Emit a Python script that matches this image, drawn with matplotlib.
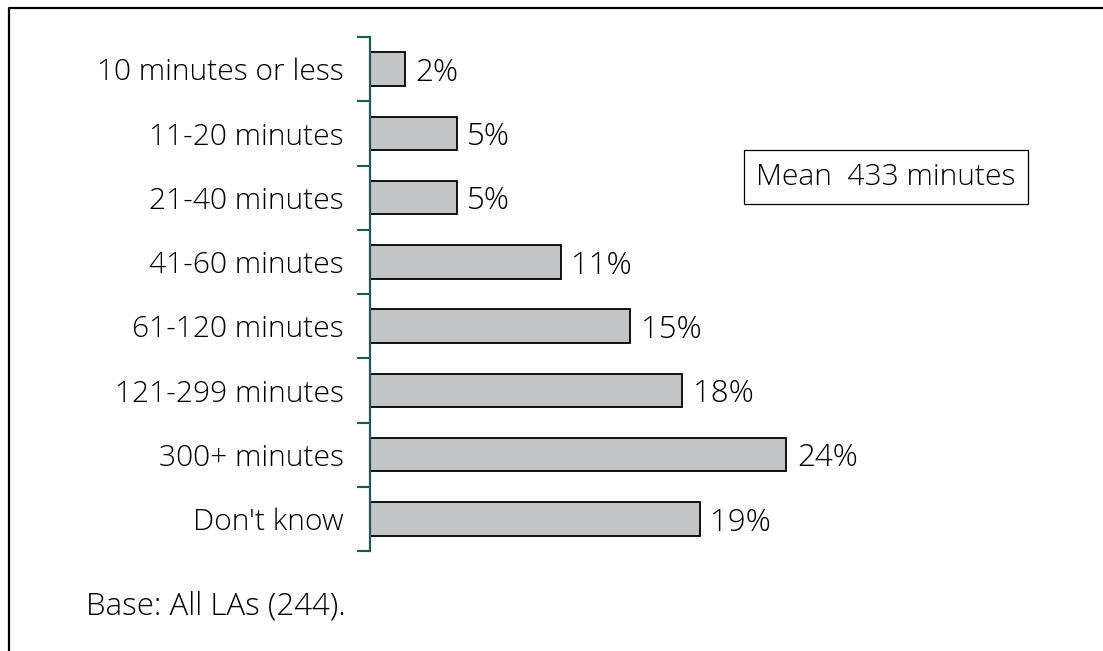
import matplotlib
matplotlib.use("Agg")
import matplotlib.pyplot as plt
from matplotlib.lines import Line2D
import numpy as np

categories = [
    "10 minutes or less",
    "11-20 minutes",
    "21-40 minutes",
    "41-60 minutes",
    "61-120 minutes",
    "121-299 minutes",
    "300+ minutes",
    "Don't know",
]
percent = [2, 5, 5, 11, 15, 18, 24, 19]
mean_text = "Mean  433 minutes"
base_text = "Base: All LAs (244)."

plt.rcParams["font.family"] = ["Open Sans", "DejaVu Sans"]
plt.rcParams["font.weight"] = "light"

W, H = 1103, 651
fig = plt.figure(figsize=(W / 100, H / 100), dpi=100)

# axes placed in pixel terms
x0, x1 = 370, 1064
y_top, y_bot = 37, 551
ax = fig.add_axes([x0 / W, (H - y_bot) / H, (x1 - x0) / W, (y_bot - y_top) / H])

teal = "#1d5858"
pos = np.arange(len(categories))
ax.barh(pos, percent, height=0.52, color="#c4c5c7", edgecolor="black", linewidth=1.3)
for p, v in zip(pos, percent):
    ax.text(v + 0.6, p + 0.06, f"{v}%", va="center", ha="left", fontsize=22.5)

ax.set_ylim(len(categories) - 0.5, -0.5)
ax.set_xlim(0, 40)
ax.set_yticks(pos)
ax.set_yticklabels(categories, fontsize=21.6)
ax.set_yticks(np.arange(len(categories) + 1) - 0.5, minor=True)
ax.tick_params(axis="y", which="major", length=0, pad=19)
ax.tick_params(axis="y", which="minor", length=9.5, width=1.5, color=teal)
ax.set_xticks([])
for s in ["top", "right", "bottom"]:
    ax.spines[s].set_visible(False)
ax.spines["left"].set_color(teal)
ax.spines["left"].set_linewidth(1.6)

fig.text(886 / W, (H - 177) / H, mean_text, ha="center", va="center", fontsize=21.6,
         bbox=dict(boxstyle="square,pad=0.4", facecolor="white", edgecolor="black", linewidth=0.9))
fig.text(86 / W, (H - 607) / H, base_text, ha="left", va="center", fontsize=22.5)

# outer frame (top and left edges only visible)
fig.add_artist(Line2D([9 / W, 9 / W, 1], [0, (H - 8) / H, (H - 8) / H],
                      transform=fig.transFigure, color="black", linewidth=1.6))

fig.savefig("out.png", dpi=100)
